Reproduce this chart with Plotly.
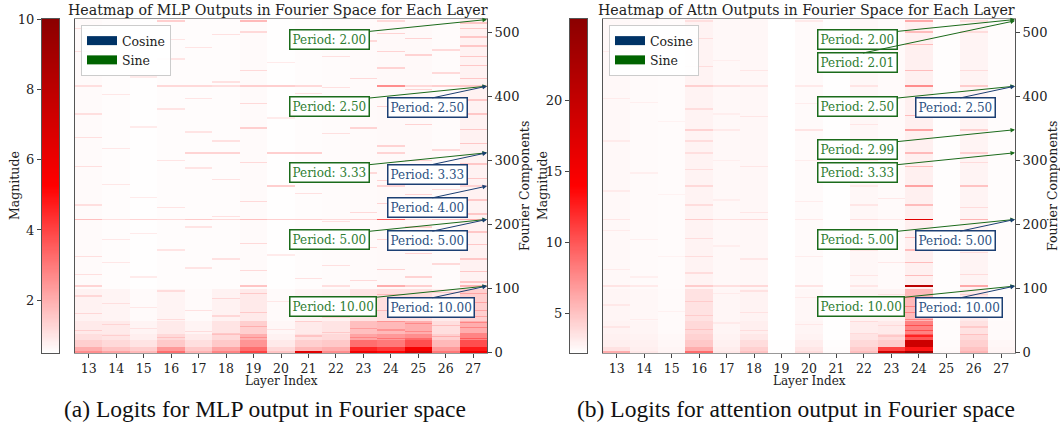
import numpy as np
import plotly.graph_objects as go

# ---------------- data ----------------
layers = list(range(13, 28))
n_comp = 521  # Fourier component index 0..520

low_bins = [(0, 3), (3, 10), (10, 20), (20, 30), (30, 50), (50, 100)]

# ---- MLP panel ----
mlp_zmin, mlp_zmax = 0.5, 10.0
mlp_base = [0.6, 0.55, 0.52, 0.55, 0.55, 0.56, 0.6, 0.52, 0.56, 0.58, 0.6, 0.62, 0.62, 0.58, 0.75]
mlp_low = {
    13: [2.6, 2.0, 1.4, 1.1, 0.9, 0.75],
    14: [2.2, 1.6, 1.2, 1.0, 0.9, 0.7],
    15: [1.8, 1.4, 1.0, 0.8, 0.7, 0.6],
    16: [3.2, 2.4, 1.5, 1.2, 0.9, 0.7],
    17: [1.9, 1.5, 1.1, 0.9, 0.7, 0.6],
    18: [2.8, 2.2, 1.5, 1.2, 1.0, 0.75],
    19: [4.0, 3.2, 2.5, 2.0, 1.4, 0.9],
    20: [1.6, 1.2, 0.9, 0.75, 0.65, 0.6],
    21: [6.5, 1.8, 1.4, 1.1, 0.9, 0.7],
    22: [2.6, 2.0, 1.5, 1.2, 1.0, 0.75],
    23: [5.8, 4.6, 3.2, 2.2, 1.7, 1.0],
    24: [5.2, 4.2, 3.0, 2.4, 1.8, 1.1],
    25: [6.8, 5.6, 3.8, 2.6, 2.0, 1.1],
    26: [3.0, 2.4, 1.8, 1.4, 1.1, 0.85],
    27: [5.8, 4.8, 3.8, 2.8, 2.0, 1.4],
}
mlp_faint = {
    13: [34, 61, 88, 122, 150, 230, 290, 335, 372, 470, 505],
    14: [27, 44, 76, 140, 176, 262, 318, 402, 448],
    15: [38, 70, 118, 186, 242, 352, 430],
    16: [24, 52, 96, 160, 226, 300, 380, 458, 488],
    17: [33, 66, 132, 196, 288, 344, 396, 476],
    18: [29, 57, 84, 146, 212, 270, 330, 422, 496],
    19: [23, 41, 63, 92, 128, 170, 236, 296, 351, 388, 440, 500],
    20: [36, 80, 152, 260, 366, 452],
    21: [26, 48, 72, 116, 182, 248, 310, 404, 482],
    22: [31, 55, 82, 136, 204, 276, 342, 414, 462],
    23: [24, 38, 58, 77, 112, 164, 218, 280, 351, 428, 486],
    24: [22, 35, 48, 66, 90, 130, 176, 232, 268, 322, 384, 444, 470, 498],
    25: [21, 33, 45, 62, 86, 118, 154, 196, 246, 300, 356, 410, 464, 490],
    26: [25, 42, 68, 94, 138, 190, 254, 316, 378, 436, 472],
    27: [22, 30, 39, 47, 56, 66, 78, 92, 110, 126, 146, 168, 188, 216, 238, 272,
         294, 326, 348, 372, 394, 428, 448, 462, 478, 492, 506, 514],
}
mlp_faint_amt = [0.5, 0.4, 0.35, 0.45, 0.45, 0.5, 0.6, 0.35, 0.5, 0.5, 0.6, 0.7, 0.7, 0.6, 0.8]
mlp_lines = [
    (208, 13, 1.7), (208, 14, 1.1), (208, 15, 1.3), (208, 16, 1.2), (208, 17, 1.5),
    (208, 18, 1.2), (208, 19, 1.7), (208, 20, 1.4), (208, 21, 1.4), (208, 22, 1.2),
    (208, 23, 1.4), (208, 24, 3.6), (208, 25, 1.4), (208, 26, 1.8), (208, 27, 2.1),
    (416, 13, 1.1), (416, 16, 1.2), (416, 17, 1.2), (416, 18, 1.1), (416, 19, 1.4),
    (416, 20, 1.4), (416, 21, 1.2), (416, 24, 2.6), (416, 25, 1.2), (416, 26, 1.4), (416, 27, 1.5),
    (104, 13, 1.3), (104, 19, 1.6), (104, 22, 1.1), (104, 24, 2.0), (104, 25, 1.4), (104, 27, 1.9),
    (312, 17, 1.3), (312, 18, 1.3), (312, 20, 1.4), (312, 21, 1.4), (312, 24, 1.3),
    (260, 20, 1.4), (260, 24, 1.3), (260, 27, 1.3),
    (351, 19, 1.4), (351, 23, 1.3),
    (518, 16, 1.4), (518, 19, 1.8), (518, 24, 1.2),
]
mlp_sine_periods = [2.00, 2.50, 3.33, 5.00, 10.00]
mlp_sine_idx = [520, 416, 312, 208, 104]
mlp_cos_periods = [2.50, 3.33, 4.00, 5.00, 10.00]
mlp_cos_idx = [416, 312, 260, 208, 104]

# ---- Attention panel ----
attn_zmin, attn_zmax = 2.25, 25.7
attn_base = [2.55, 2.5, 2.45, 2.8, 2.55, 2.6, 2.27, 2.5, 2.3, 2.6, 2.5, 2.95, 2.35, 2.75, 2.4]
attn_low = {
    13: [6.0, 3.6, 3.0, 2.9, 2.8, 2.7],
    14: [3.3, 3.0, 2.9, 2.8, 2.7, 2.6],
    15: [2.8, 2.7, 2.6, 2.55, 2.5, 2.5],
    16: [9.0, 6.0, 4.8, 4.3, 4.0, 3.6],
    17: [3.3, 3.1, 2.9, 2.8, 2.7, 2.65],
    18: [5.0, 4.4, 3.8, 3.3, 3.0, 2.8],
    19: [2.35, 2.3, 2.28, 2.27, 2.27, 2.27],
    20: [3.8, 3.4, 3.1, 2.8, 2.7, 2.6],
    21: [2.5, 2.4, 2.35, 2.3, 2.3, 2.3],
    22: [5.2, 4.6, 4.0, 3.5, 3.1, 2.8],
    23: [19.0, 11.0, 4.6, 4.0, 3.2, 2.8],
    24: [23.0, 13.0, 19.0, 10.0, 8.0, 5.4],
    25: [2.6, 2.5, 2.45, 2.4, 2.4, 2.35],
    26: [5.6, 5.0, 4.4, 4.0, 3.6, 3.2],
    27: [2.8, 2.7, 2.6, 2.5, 2.5, 2.45],
}
attn_faint = {
    13: [40, 74, 130, 190, 252, 330, 396, 470],
    14: [52, 118, 176, 280, 390],
    15: [64, 150, 246, 360],
    16: [36, 58, 80, 124, 150, 178, 230, 286, 330, 380, 446, 490],
    17: [46, 92, 166, 238, 300, 372, 456],
    18: [34, 62, 96, 146, 218, 290, 368, 440],
    20: [44, 86, 150, 236, 300, 388],
    22: [30, 48, 70, 120, 160, 230, 300, 356, 440],
    23: [26, 42, 60, 90, 140, 240],
    24: [26, 34, 42, 52, 62, 72, 86, 120, 140, 160, 180, 230, 290, 370, 440, 480, 500],
    26: [28, 40, 56, 70, 90, 122, 156, 186, 226, 296, 372, 440, 500],
}
attn_faint_amt = [0.6, 0.5, 0.4, 1.0, 0.5, 0.8, 0.0, 0.6, 0.0, 0.8, 0.8, 2.4, 0.0, 1.1, 0.0]
attn_lines = [
    (208, 13, 3.4), (208, 16, 4.6), (208, 17, 3.7), (208, 18, 4.0), (208, 22, 3.7),
    (208, 23, 3.3), (208, 24, 17.0), (208, 26, 5.8), (208, 20, 3.2),
    (416, 16, 4.4), (416, 17, 3.8), (416, 18, 3.5), (416, 20, 3.2), (416, 22, 3.5),
    (416, 24, 7.5), (416, 26, 4.6),
    (348, 16, 4.3), (348, 17, 3.2), (348, 20, 3.5), (348, 24, 6.5), (348, 26, 4.4),
    (312, 16, 3.7), (312, 24, 5.4), (312, 26, 4.4),
    (260, 16, 4.0), (260, 24, 6.5), (260, 26, 5.0), (260, 22, 3.2),
    (104, 13, 3.5), (104, 14, 3.2), (104, 16, 4.6), (104, 17, 3.7), (104, 18, 4.0),
    (104, 20, 3.5), (104, 22, 3.4), (104, 24, 21.0), (104, 26, 6.2),
    (518, 16, 3.7), (518, 20, 3.2), (518, 24, 6.2), (518, 26, 3.7),
]
attn_sine_periods = [2.00, 2.01, 2.50, 2.99, 3.33, 5.00, 10.00]
attn_sine_idx = [520, 518, 416, 348, 312, 208, 104]
attn_cos_periods = [2.50, 5.00, 10.00]
attn_cos_idx = [416, 208, 104]

titles = ["Heatmap of MLP Outputs in Fourier Space for Each Layer",
          "Heatmap of Attn Outputs in Fourier Space for Each Layer"]
captions = ["(a) Logits for MLP output in Fourier space",
            "(b) Logits for attention output in Fourier space"]


def build(base, low, lines, faint, faint_amt):
    z = np.zeros((n_comp, len(layers)))
    for j, L in enumerate(layers):
        z[:, j] = base[j]
        for (a, b), v in zip(low_bins, low[L]):
            z[a:b, j] = np.maximum(z[a:b, j], v)
        for c in faint.get(L, []):
            z[c:c + 2, j] += faint_amt[j]
    for c, L, v in lines:
        j = layers.index(L)
        z[max(c - 1, 0):c + 2, j] = np.maximum(z[max(c - 1, 0):c + 2, j], v)
    return z


z_mlp = build(mlp_base, mlp_low, mlp_lines, mlp_faint, mlp_faint_amt)
z_attn = build(attn_base, attn_low, attn_lines, attn_faint, attn_faint_amt)

# ---------------- figure ----------------
W, H = 1060, 427
cscale = [[0.0, "white"], [0.5, "red"], [1.0, "darkred"]]
FONT = "DejaVu Serif"
GREEN_T, GREEN_B = "#2e7d32", "#1b6b1b"
BLUE_T, BLUE_B = "#2c5282", "#1c3f73"


def px(x):
    return x / W


def py(y):
    return 1 - y / H


panels = [
    dict(z=z_mlp, zmin=mlp_zmin, zmax=mlp_zmax, cb_ticks=[2, 4, 6, 8, 10],
         hx=(75, 487), cbx=(42, 59), sine=(mlp_sine_periods, mlp_sine_idx),
         cos=(mlp_cos_periods, mlp_cos_idx)),
    dict(z=z_attn, zmin=attn_zmin, zmax=attn_zmax, cb_ticks=[5, 10, 15, 20],
         hx=(603, 1015), cbx=(570, 587), sine=(attn_sine_periods, attn_sine_idx),
         cos=(attn_cos_periods, attn_cos_idx)),
]
top, bot = 19, 353

fig = go.Figure()
layout = dict(width=W, height=H, margin=dict(l=0, r=0, t=0, b=0, autoexpand=False),
              paper_bgcolor="white", plot_bgcolor="white",
              font=dict(family=FONT, size=13, color="#222"))
annotations = []

for k, p in enumerate(panels):
    hx_name = "x" if k == 0 else "x3"
    hy_name = "y" if k == 0 else "y3"
    cx_name = "x2" if k == 0 else "x4"
    cy_name = "y2" if k == 0 else "y4"
    hx_key = "xaxis" if k == 0 else "xaxis3"
    hy_key = "yaxis" if k == 0 else "yaxis3"
    cx_key = "xaxis2" if k == 0 else "xaxis4"
    cy_key = "yaxis2" if k == 0 else "yaxis4"

    fig.add_trace(go.Heatmap(z=p["z"], x=layers, y=list(range(n_comp)),
                             colorscale=cscale, zmin=p["zmin"], zmax=p["zmax"],
                             showscale=False, xaxis=hx_name, yaxis=hy_name,
                             hoverinfo="skip"))
    grad = np.linspace(p["zmin"], p["zmax"], 300)
    fig.add_trace(go.Heatmap(z=grad.reshape(-1, 1), x=[0], y=grad,
                             colorscale=cscale, zmin=p["zmin"], zmax=p["zmax"],
                             showscale=False, xaxis=cx_name, yaxis=cy_name,
                             hoverinfo="skip"))

    layout[hx_key] = dict(domain=[px(p["hx"][0]), px(p["hx"][1])], anchor=hy_name,
                          range=[12.5, 27.5], tickvals=layers, ticks="outside",
                          ticklen=4, tickcolor="#444", showline=True, linecolor="#999",
                          linewidth=1, mirror=True, showgrid=False, zeroline=False,
                          automargin=False,
                          tickfont=dict(size=12.5, family=FONT, color="#222"))
    layout[hy_key] = dict(domain=[py(bot), py(top)], anchor=hx_name, side="right",
                          range=[-0.5, 520.8], tickvals=[0, 100, 200, 300, 400, 500],
                          ticks="outside", ticklen=4, tickcolor="#444", showline=True,
                          linecolor="#555", linewidth=1, mirror=True, showgrid=False,
                          zeroline=False, automargin=False,
                          tickfont=dict(size=13, family=FONT, color="#222"))
    layout[cx_key] = dict(domain=[px(p["cbx"][0]), px(p["cbx"][1])], anchor=cy_name,
                          range=[-0.5, 0.5], showticklabels=False, ticks="",
                          showline=True, linecolor="#555", mirror=True, automargin=False,
                          showgrid=False, zeroline=False)
    layout[cy_key] = dict(domain=[py(bot), py(top)], anchor=cx_name, side="left",
                          range=[p["zmin"], p["zmax"]], tickvals=p["cb_ticks"],
                          ticks="outside", ticklen=4, tickcolor="#444", showline=True,
                          linecolor="#555", mirror=True, showgrid=False, zeroline=False,
                          automargin=False,
                          tickfont=dict(size=13, family=FONT, color="#222"))

    x0, x1 = p["hx"]
    cxm = (x0 + x1) / 2
    annotations.append(dict(text=titles[k], x=px((x0 + x1) / 2 - 3), y=py(10), xref="paper",
                            yref="paper", showarrow=False, xanchor="center", yanchor="middle",
                            font=dict(size=14.2, family=FONT, color="#222")))
    annotations.append(dict(text="Layer Index", x=px(cxm), y=py(381), xref="paper", yref="paper",
                            showarrow=False, xanchor="center", yanchor="middle",
                            font=dict(size=12, family=FONT, color="#222")))
    annotations.append(dict(text="Fourier Components", x=px(x1 + 37), y=py((top + bot) / 2),
                            xref="paper", yref="paper", showarrow=False, textangle=-90,
                            xanchor="center", yanchor="middle",
                            font=dict(size=12.5, family=FONT, color="#222")))
    annotations.append(dict(text="Magnitude", x=px(p["cbx"][0] - 28), y=py((top + bot) / 2),
                            xref="paper", yref="paper", showarrow=False, textangle=-90,
                            xanchor="center", yanchor="middle",
                            font=dict(size=12.5, family=FONT, color="#222")))
    annotations.append(dict(text=captions[k], x=px(265 if k == 0 else 796), y=py(409),
                            xref="paper", yref="paper", showarrow=False, xanchor="center",
                            yanchor="middle",
                            font=dict(size=23.5, family="Liberation Serif", color="#111")))
    for (periods, idx), tcol, bcol, dx, dy in [
        (p["sine"], GREEN_T, GREEN_B, -198, 20),
        (p["cos"], BLUE_T, BLUE_B, -100, 21.5),
    ]:
        for per, c in zip(periods, idx):
            ay = dy
            if k == 1 and abs(per - 2.01) < 1e-9:
                ay = 42
            annotations.append(dict(
                text=f"Period: {per:.2f}", x=27.5, y=c, xref=hx_name, yref=hy_name,
                ax=dx, ay=ay, axref="pixel", ayref="pixel", xanchor="left",
                yanchor="middle", showarrow=True, arrowhead=2, arrowsize=0.9,
                arrowwidth=1, arrowcolor=bcol, bgcolor="white", bordercolor=bcol,
                borderwidth=1.5, borderpad=2, font=dict(size=12, family=FONT, color=tcol)))

    leg = "legend" if k == 0 else "legend2"
    fig.add_trace(go.Scatter(x=[None], y=[None], mode="lines", name="Cosine",
                             line=dict(color="#003366", width=9), legend=leg,
                             xaxis=hx_name, yaxis=hy_name, showlegend=True))
    fig.add_trace(go.Scatter(x=[None], y=[None], mode="lines", name="Sine",
                             line=dict(color="#006400", width=9), legend=leg,
                             xaxis=hx_name, yaxis=hy_name, showlegend=True))
    layout[leg] = dict(x=px(x0 + 6), y=py(top + 6), xanchor="left", yanchor="top",
                       bgcolor="rgba(255,255,255,0.9)", bordercolor="#cccccc", borderwidth=1,
                       font=dict(size=12.5, family=FONT, color="#222"), itemwidth=30,
                       tracegroupgap=0)

layout["annotations"] = annotations
fig.update_layout(**layout)
fig.write_html("out.html", config={"displayModeBar": False},
               post_script="document.body.style.margin='0';document.body.style.padding='0';"
                           "document.body.style.overflow='hidden';")
